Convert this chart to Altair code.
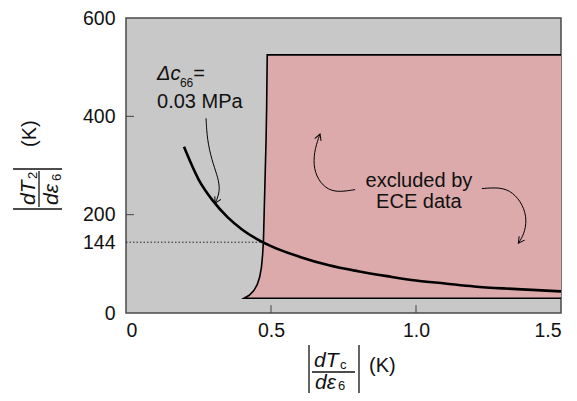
import altair as alt
import pandas as pd

FONT = "Liberation Sans"

# ---- data ----
# curve for Δc66 = 0.03 MPa
curve_x = [0.2, 0.25, 0.3, 0.35, 0.4, 0.45, 0.5, 0.6, 0.7, 0.8, 0.9, 1.0, 1.1, 1.2, 1.3, 1.4, 1.5]
curve_y = [338, 272, 228, 195, 170, 151, 136, 114, 97, 85, 75, 66, 60, 54, 50, 47, 44]

# region excluded by ECE data (left boundary, floor, ceiling)
edge_x = [0.407, 0.425, 0.440, 0.452, 0.461, 0.467, 0.471, 0.474, 0.477, 0.480, 0.483, 0.485, 0.487]
edge_y = [30, 36, 45, 57, 73, 93, 118, 148, 216, 284, 352, 420, 525]
region_right = 1.5
region_floor = 30
region_ceiling = 525

# dotted reference line
ref_value = 144
ref_x = [0.0, 0.475]

# annotation arrows
arrow1_x = [0.276, 0.280, 0.296, 0.314, 0.324, 0.318, 0.307]
arrow1_y = [396, 352, 311, 281, 256, 237, 223]
arrow2_x = [0.790, 0.738, 0.697, 0.662, 0.645, 0.652, 0.669]
arrow2_y = [251, 246, 250, 270, 301, 336, 364]
arrow3_x = [1.227, 1.290, 1.334, 1.369, 1.383, 1.372, 1.353]
arrow3_y = [253, 256, 246, 220, 189, 159, 142]
head_angle = [27, 200, 35]

# ticks
x_ticks = [0, 0.5, 1.0, 1.5]
y_ticks = [0, 144, 200, 400, 600]
inner_x_ticks = [0.5, 1.0]
inner_y_ticks = [200, 400]

# texts
label_delta = "Δc"
label_delta_sub = "66"
label_eq = "="
label_mpa = "0.03 MPa"
label_excl = ["excluded by", "ECE data"]

# ---- tables ----
curve_df = pd.DataFrame({"x": curve_x, "y": curve_y})
area_df = pd.DataFrame({"x": edge_x + [region_right],
                        "y": edge_y + [region_ceiling],
                        "y2": [region_floor] * (len(edge_x) + 1)})
outline_df = pd.DataFrame({"x": [region_right] + edge_x + [region_right],
                           "y": [region_floor] + edge_y + [region_ceiling]})
outline_df["o"] = range(len(outline_df))
ref_df = pd.DataFrame({"x": ref_x, "y": [ref_value] * 2})

arrows = []
for k, (ax, ay) in enumerate([(arrow1_x, arrow1_y), (arrow2_x, arrow2_y), (arrow3_x, arrow3_y)]):
    for i, (a, b) in enumerate(zip(ax, ay)):
        arrows.append({"x": a, "y": b, "k": k, "o": i})
arrow_df = pd.DataFrame(arrows)
heads_df = pd.DataFrame({"x": [arrow1_x[-1], arrow2_x[-1], arrow3_x[-1]],
                         "y": [arrow1_y[-1], arrow2_y[-1], arrow3_y[-1]],
                         "ang": head_angle})

xtick_df = pd.DataFrame({"x": inner_x_ticks, "y": [0] * 2, "y2": [16] * 2})
ytick_df = pd.DataFrame({"x": [0] * 2, "x2": [0.0276] * 2, "y": inner_y_ticks})

XS = alt.Scale(domain=[0, 1.5], nice=False, zero=False)
YS = alt.Scale(domain=[0, 600], nice=False, zero=False)

X_AXIS = alt.Axis(
    values=x_ticks, title=None, grid=False, ticks=False, tickSize=0, domain=False,
    labelExpr="datum.value == 0 ? '0' : format(datum.value, '.1f')",
    labelFontSize=19.5, labelFont=FONT, labelColor="#111", labelPadding=8)
Y_AXIS = alt.Axis(
    values=y_ticks, title=None, grid=False, ticks=False, tickSize=0, domain=False,
    labelFontSize=19.5, labelFont=FONT, labelColor="#111", labelPadding=11)


def X(f="x"):
    return alt.X(f"{f}:Q", scale=XS, axis=X_AXIS)


def Y(f="y"):
    return alt.Y(f"{f}:Q", scale=YS, axis=Y_AXIS)


area = alt.Chart(area_df).mark_area(color="#dcaaab", opacity=1).encode(
    x=X(), y=Y(), y2="y2:Q")
outline = alt.Chart(outline_df).mark_line(color="#000", strokeWidth=1.6).encode(
    x=X(), y=Y(), order="o:Q")
ref = alt.Chart(ref_df).mark_line(color="#222", strokeWidth=1, strokeDash=[1.5, 2]).encode(
    x=X(), y=Y())
curve = alt.Chart(curve_df).mark_line(color="#000", strokeWidth=2.6, interpolate="monotone").encode(
    x=X(), y=Y())
arrow_lines = alt.Chart(arrow_df).mark_line(color="#000", strokeWidth=1, interpolate="basis").encode(
    x=X(), y=Y(), detail="k:N", order="o:Q")
heads = alt.Chart(heads_df).mark_point(
    shape="M -0.55 -1 L 0 0 L 0.55 -1", filled=False, color="#000", strokeWidth=1,
    size=150, opacity=1).encode(x=X(), y=Y(), angle=alt.Angle("ang:Q", scale=None))
xticks = alt.Chart(xtick_df).mark_rule(color="#444", strokeWidth=1).encode(
    x=X(), y=Y(), y2="y2:Q")
yticks = alt.Chart(ytick_df).mark_rule(color="#444", strokeWidth=1).encode(
    x=X(), x2="x2:Q", y=Y())

# in-plot annotations (data coordinates)
ann_df = pd.DataFrame({"x": [0.107, 0.107], "y": [474, 417], "t": [label_delta, label_mpa]})
ann_delta = alt.Chart(ann_df.iloc[[0]]).mark_text(
    align="left", baseline="alphabetic", font=FONT, fontSize=20, fontStyle="italic", color="#111"
).encode(x=X(), y=Y(), text="t:N")
ann_mpa = alt.Chart(ann_df.iloc[[1]]).mark_text(
    align="left", baseline="alphabetic", font=FONT, fontSize=20, color="#111"
).encode(x=X(), y=Y(), text="t:N")
sub_df = pd.DataFrame({"x": [0.186], "y": [460], "t": [label_delta_sub]})
ann_sub = alt.Chart(sub_df).mark_text(
    align="left", baseline="alphabetic", font=FONT, fontSize=12, color="#111"
).encode(x=X(), y=Y(), text="t:N")
eq_df = pd.DataFrame({"x": [0.232], "y": [474], "t": [label_eq]})
ann_eq = alt.Chart(eq_df).mark_text(
    align="left", baseline="alphabetic", font=FONT, fontSize=20, color="#111"
).encode(x=X(), y=Y(), text="t:N")
excl_df = pd.DataFrame({"x": [1.01, 1.01], "y": [256, 213], "t": label_excl})
ann_excl = alt.Chart(excl_df).mark_text(
    align="center", baseline="alphabetic", font=FONT, fontSize=20, color="#111"
).encode(x=X(), y=Y(), text="t:N")


# axis titles built from pieces (pixel positions)
def piece(txt, px, py, size, angle=0, italic=False):
    return alt.Chart(pd.DataFrame({"t": [txt]})).mark_text(
        align="left", baseline="alphabetic", font=FONT, fontSize=size,
        fontStyle="italic" if italic else "normal", angle=angle, color="#111"
    ).encode(x=alt.value(px), y=alt.value(py), text="t:N")


def seg(x1, x2, y1, y2, w=1.3):
    return alt.Chart(pd.DataFrame({"a": [0]})).mark_rule(color="#111", strokeWidth=w).encode(
        x=alt.value(x1), x2=alt.value(x2), y=alt.value(y1), y2=alt.value(y2))


title_parts = [
    # x title
    piece("dT", 188, 349, 21, italic=True),
    piece("c", 214, 351, 13),
    piece("dε", 189, 371, 21, italic=True),
    piece("6", 212, 372, 13),
    piece("(K)", 243, 354, 20),
    seg(183, 183, 327, 375),
    seg(233, 233, 327, 375),
    seg(186, 229, 354, 354),
    # y title
    piece("dT", -91, 187, 21, angle=270, italic=True),
    piece("2", -89, 161, 13, angle=270),
    piece("dε", -68, 187, 21, angle=270, italic=True),
    piece("6", -65, 163, 13, angle=270),
    piece("(K)", -90, 129, 20, angle=270),
    seg(-113, -64, 151, 151),
    seg(-113, -64, 191, 191),
    seg(-87, -87, 153, 189),
]

chart = alt.layer(
    area, outline, ref, curve, arrow_lines, heads, xticks, yticks,
    ann_delta, ann_sub, ann_eq, ann_mpa, ann_excl, *title_parts
).properties(
    width=435, height=295,
    padding={"left": 118, "top": 10, "right": 8, "bottom": 80},
    autosize=alt.AutoSizeParams(type="none"),
).configure_view(
    fill="#c8c8c8", stroke="#4a4a4a", strokeWidth=1.5
)

chart.save("out.html", embed_options={"renderer": "svg", "actions": False})
